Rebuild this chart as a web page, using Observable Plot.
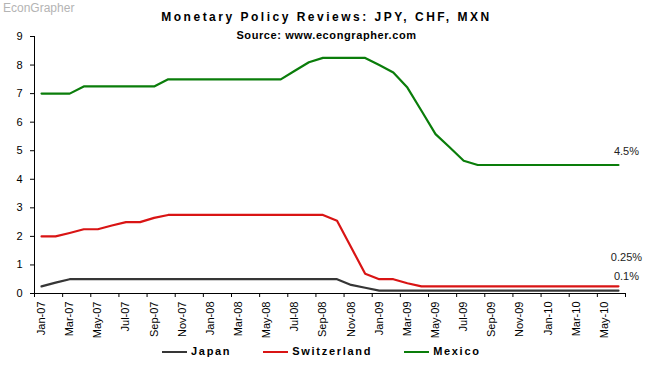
<!DOCTYPE html>
<html>
<head>
<meta charset="utf-8">
<script src="https://cdn.jsdelivr.net/npm/d3@7"></script>
<script src="https://cdn.jsdelivr.net/npm/@observablehq/plot@0.6"></script>
<style>
  body { margin: 0; background: #fff; font-family: "Liberation Sans", Arial, sans-serif; }
  #wrap { position: relative; width: 653px; height: 365px; overflow: hidden; background: #fff; }
  #brand { position: absolute; left: 3px; top: 2px; font-size: 12px; line-height: 12px; color: #b4b4b4; }
  #title { position: absolute; left: 0; width: 653px; top: 11px; text-align: center; font-size: 12px; line-height: 12px; font-weight: bold; letter-spacing: 2.5px; color: #000; }
  #subtitle { position: absolute; left: 0; width: 653px; top: 30px; text-align: center; font-size: 11px; line-height: 11px; font-weight: bold; letter-spacing: 0.6px; color: #000; }
  #chart { position: absolute; left: 0; top: 30px; }
  #legend { position: absolute; left: 162px; top: 346px; display: flex; align-items: center; gap: 32px; }
  .item { display: flex; align-items: center; }
  .sw { width: 25px; height: 2px; margin-right: 4px; }
  .lab { font-size: 11px; line-height: 11px; font-weight: bold; letter-spacing: 1.7px; color: #000; }
</style>
</head>
<body>
<div id="wrap">
  <div id="chart"></div>
  <div id="brand">EconGrapher</div>
  <div id="title">Monetary Policy Reviews: JPY, CHF, MXN</div>
  <div id="subtitle">Source: www.econgrapher.com</div>
  <div id="legend"></div>
</div>
<script>
// ---- data ----
const months = [
  "Jan-07","Feb-07","Mar-07","Apr-07","May-07","Jun-07","Jul-07","Aug-07","Sep-07","Oct-07","Nov-07","Dec-07",
  "Jan-08","Feb-08","Mar-08","Apr-08","May-08","Jun-08","Jul-08","Aug-08","Sep-08","Oct-08","Nov-08","Dec-08",
  "Jan-09","Feb-09","Mar-09","Apr-09","May-09","Jun-09","Jul-09","Aug-09","Sep-09","Oct-09","Nov-09","Dec-09",
  "Jan-10","Feb-10","Mar-10","Apr-10","May-10","Jun-10"
];
const japan = [
  0.25, 0.38, 0.5, 0.5, 0.5, 0.5, 0.5, 0.5, 0.5, 0.5, 0.5, 0.5,
  0.5, 0.5, 0.5, 0.5, 0.5, 0.5, 0.5, 0.5, 0.5, 0.5, 0.3, 0.2,
  0.1, 0.1, 0.1, 0.1, 0.1, 0.1, 0.1, 0.1, 0.1, 0.1, 0.1, 0.1,
  0.1, 0.1, 0.1, 0.1, 0.1, 0.1
];
const switzerland = [
  2.0, 2.0, 2.12, 2.25, 2.25, 2.38, 2.5, 2.5, 2.65, 2.75, 2.75, 2.75,
  2.75, 2.75, 2.75, 2.75, 2.75, 2.75, 2.75, 2.75, 2.75, 2.55, 1.62, 0.69,
  0.5, 0.5, 0.36, 0.25, 0.25, 0.25, 0.25, 0.25, 0.25, 0.25, 0.25, 0.25,
  0.25, 0.25, 0.25, 0.25, 0.25, 0.25
];
const mexico = [
  7.0, 7.0, 7.0, 7.25, 7.25, 7.25, 7.25, 7.25, 7.25, 7.5, 7.5, 7.5,
  7.5, 7.5, 7.5, 7.5, 7.5, 7.5, 7.8, 8.1, 8.25, 8.25, 8.25, 8.25,
  8.0, 7.74, 7.21, 6.4, 5.58, 5.12, 4.65, 4.5, 4.5, 4.5, 4.5, 4.5,
  4.5, 4.5, 4.5, 4.5, 4.5, 4.5
];
const seriesNames = ["Japan", "Switzerland", "Mexico"];
const seriesColors = ["#363636", "#d91414", "#0a7d0a"];
const endLabels = ["0.1%", "0.25%", "4.5%"];
const yTicks = [0, 1, 2, 3, 4, 5, 6, 7, 8, 9];

// ---- build table ----
const seriesValues = [japan, switzerland, mexico];
const rows = [];
seriesValues.forEach((vals, s) => vals.forEach((v, i) => rows.push({series: seriesNames[s], i, month: months[i], value: v})));
const last = months.length - 1;
const endRows = seriesValues.map((vals, s) => ({series: seriesNames[s], i: last, value: vals[last], label: endLabels[s]}));
const endDy = [-14, -29, -14];

const labelIdx = months.map((m, i) => i).filter(i => i % 2 === 0);
const boundaries = d3.range(-0.5, months.length, 2);

const chart = Plot.plot({
  width: 653,
  height: 308,
  marginTop: 6,
  marginBottom: 45,
  marginLeft: 34,
  marginRight: 28,
  x: {domain: [-0.5, months.length - 0.5]},
  y: {domain: [0, 9]},
  color: {domain: seriesNames, range: seriesColors},
  style: {background: "transparent", fontFamily: "Liberation Sans, Arial, sans-serif", fontSize: "11px", color: "#000", overflow: "visible"},
  marks: [
    Plot.ruleY([0], {stroke: "#000"}),
    Plot.ruleX([-0.5], {stroke: "#000"}),
    Plot.axisY({ticks: yTicks, tickSize: 4, tickPadding: 8, tickFormat: d => String(d), label: null, stroke: "#000"}),
    Plot.axisX({ticks: boundaries, tickSize: 4, tickFormat: () => "", label: null, stroke: "#000"}),
    Plot.axisX({ticks: labelIdx, tickSize: 0, tickPadding: 8, tickRotate: -90, tickFormat: i => months[i], label: null}),
    Plot.lineY(rows, {x: "i", y: "value", z: "series", stroke: "series", strokeWidth: 2.2}),
    ...endRows.map((r, k) => Plot.text([r], {x: "i", y: "value", text: "label", dx: 8, dy: endDy[k], fill: "#222", textAnchor: "middle"}))
  ]
});
document.getElementById("chart").appendChild(chart);

// ---- legend ----
const legend = document.getElementById("legend");
seriesNames.forEach((name, k) => {
  const item = document.createElement("div");
  item.className = "item";
  const sw = document.createElement("div");
  sw.className = "sw";
  sw.style.background = seriesColors[k];
  const lab = document.createElement("span");
  lab.className = "lab";
  lab.textContent = name;
  item.appendChild(sw);
  item.appendChild(lab);
  legend.appendChild(item);
});
</script>
</body>
</html>
